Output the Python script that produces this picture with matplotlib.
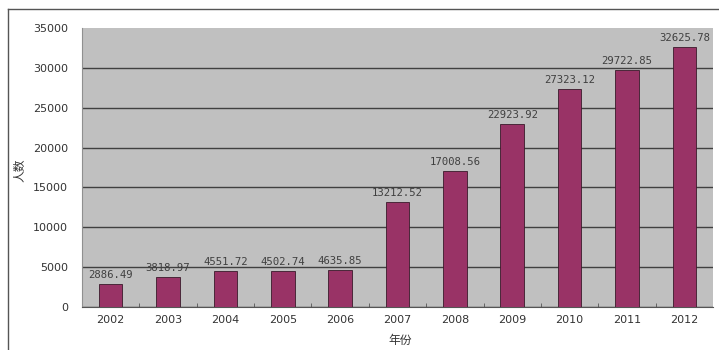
import matplotlib.pyplot as plt
from matplotlib.lines import Line2D

plt.rcParams['font.family'] = ['DejaVu Sans', 'Noto Sans CJK SC']

# data
years = ['2002', '2003', '2004', '2005', '2006', '2007',
         '2008', '2009', '2010', '2011', '2012']
people = [2886.49, 3818.97, 4551.72, 4502.74, 4635.85, 13212.52,
          17008.56, 22923.92, 27323.12, 29722.85, 32625.78]
yticks = [0, 5000, 10000, 15000, 20000, 25000, 30000, 35000]

fig = plt.figure(figsize=(7.19, 3.5), dpi=100)
ax = fig.add_axes([82/719, 1 - 307/350, 631/719, 279/350])
ax.set_facecolor('#c0c0c0')

x = range(len(years))
ax.bar(x, people, width=0.41, color='#993366', edgecolor='#3a1a2a',
       linewidth=0.6, zorder=3)

for i, v in enumerate(people):
    ax.text(i, v + 500, '%.2f' % v, ha='center', va='bottom',
            fontsize=7.7, family='DejaVu Sans Mono', color='#404040',
            zorder=4)

ax.set_xlim(-0.5, len(years) - 0.5)
ax.set_ylim(0, 35000)
ax.set_yticks(yticks)
ax.set_yticklabels([str(t) for t in yticks], fontsize=8, color='#333333')
ax.set_xticks(list(x))
ax.set_xticklabels(years, fontsize=8, color='#333333')
ax.set_xticks([i + 0.5 for i in range(len(years) - 1)], minor=True)
ax.tick_params(axis='x', which='major', length=0, pad=6)
ax.tick_params(axis='x', which='minor', length=3, direction='in', color='#555555')
ax.tick_params(axis='y', length=0, pad=10)
ax.yaxis.grid(True, color='#404040', linewidth=1)
ax.set_axisbelow(True)
# no grid line along the top edge
ax.get_ygridlines()[-1].set_visible(False)

for s in ['top', 'right']:
    ax.spines[s].set_visible(False)
ax.spines['left'].set_color('#909090')
ax.spines['bottom'].set_color('#555555')

fig.text(20/719, 1 - 170/350, '人数', rotation=90, ha='center', va='center',
         fontsize=8.5, family=['Noto Sans CJK SC'], color='#333333')
fig.text(400/719, 1 - 340/350, '年份', ha='center', va='center',
         fontsize=8.5, family=['Noto Sans CJK SC'], color='#333333')

# outer border (top and left visible)
fig.add_artist(Line2D([8/719, 1], [1 - 9/350, 1 - 9/350],
                      transform=fig.transFigure, color='#555555', linewidth=1))
fig.add_artist(Line2D([8/719, 8/719], [0, 1 - 9/350],
                      transform=fig.transFigure, color='#555555', linewidth=1))

fig.savefig('out.png', dpi=100, facecolor='white')
